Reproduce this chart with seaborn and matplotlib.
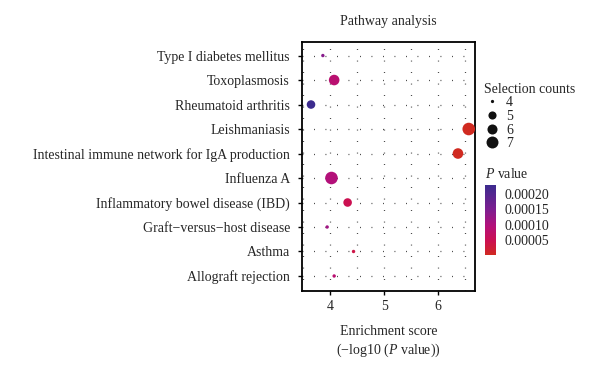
import matplotlib
matplotlib.use("Agg")
import matplotlib.pyplot as plt
import seaborn as sns
import pandas as pd
import numpy as np
from matplotlib.colors import LinearSegmentedColormap, Normalize
from matplotlib.lines import Line2D
import matplotlib as mpl

# Datos
pathways = ["Type I diabetes mellitus", "Toxoplasmosis", "Rheumatoid arthritis",
            "Leishmaniasis", "Intestinal immune network for IgA production",
            "Influenza A", "Inflammatory bowel disease (IBD)",
            "Graft\u2212versus\u2212host disease", "Asthma", "Allograft rejection"]
enrichment = [3.86, 4.07, 3.64, 6.57, 6.37, 4.02, 4.32, 3.94, 4.43, 4.07]
p_values = [0.000138, 0.000085, 0.000229, 0.0000003, 0.0000004,
            0.000095, 0.000048, 0.000115, 0.000037, 0.000085]
counts = [4, 6, 5, 7, 6, 7, 5, 4, 4, 4]

count_levels = [4, 5, 6, 7]
cbar_ticks = [0.00020, 0.00015, 0.00010, 0.00005]
cbar_labels = ["0.00020", "0.00015", "0.00010", "0.00005"]

df = pd.DataFrame({"Pathway": pathways, "Enrichment": enrichment,
                   "P": p_values, "Count": counts})

sns.set_style("white")
plt.rcParams["font.family"] = ["Liberation Serif", "DejaVu Serif"]
plt.rcParams["mathtext.fontset"] = "custom"
plt.rcParams["mathtext.rm"] = "Liberation Serif"
plt.rcParams["mathtext.it"] = "Liberation Serif:italic"

cmap = LinearSegmentedColormap.from_list(
    "pv", [(0.0, "#d02a20"), (0.2, "#cc1050"), (0.42, "#b3107a"),
           (0.65, "#7d1e90"), (1.0, "#3c2b8e")])
norm = Normalize(vmin=min(p_values), vmax=max(p_values))
size_map = {4: 6, 5: 38, 6: 58, 7: 82}

fig = plt.figure(figsize=(6, 3.78), dpi=100)
ax = fig.add_axes([0.504, 0.231, 0.288, 0.659])

# Rejilla punteada
for x in [3.5, 4, 4.5, 5, 5.5, 6, 6.5]:
    ax.axvline(x, color="#333333", lw=0.9, ls=(0, (0.7, 8.5)), zorder=0)
for y in range(len(pathways)):
    ax.axhline(y, color="#333333", lw=0.9, ls=(0, (0.7, 8.5)), zorder=0)

sns.scatterplot(data=df, x="Enrichment", y="Pathway", hue="P", hue_norm=norm,
                palette=cmap, size="Count", sizes=size_map, legend=False,
                edgecolor="none", ax=ax, zorder=3)

ax.set_xlim(3.48, 6.69)
ax.set_ylim(len(pathways) - 0.4, -0.57)
ax.set_xticks([4, 5, 6])
ax.set_yticks(range(len(pathways)))
ax.set_yticklabels(pathways)
ax.tick_params(axis="both", direction="out", length=3, width=1, color="black",
               labelsize=10, pad=4, left=True, bottom=True)
ax.tick_params(axis="y", pad=6)
for s in ax.spines.values():
    s.set_linewidth(1.3)
    s.set_color("black")
ax.set_xlabel("Enrichment score\n(\u2212log10 ($P$ value))", fontsize=10, labelpad=8,
              linespacing=1.3)
ax.set_ylabel("")
ax.set_title("Pathway analysis", fontsize=10, pad=12)

# Leyenda de tamanos
handles = [Line2D([], [], marker="o", ls="", color="#111111", markeredgewidth=0,
                  markersize=np.sqrt(size_map[c]) * 0.95) for c in count_levels]
leg = fig.legend(handles, [str(c) for c in count_levels], title="Selection counts",
                 loc="upper left", bbox_to_anchor=(0.795, 0.8), frameon=False,
                 fontsize=10, title_fontsize=10, handletextpad=0.4, labelspacing=0.05,
                 borderpad=0, handlelength=1.2)
leg._legend_box.align = "left"

# Barra de color
cax = fig.add_axes([0.808, 0.325, 0.019, 0.185])
cb = mpl.colorbar.ColorbarBase(cax, cmap=cmap, norm=norm)
cb.outline.set_visible(False)
cb.set_ticks(cbar_ticks)
cb.set_ticklabels(cbar_labels)
cax.tick_params(direction="in", color="white", length=3.5, width=1.3, left=True,
                right=True, labelsize=10, pad=6)
fig.text(0.808, 0.522, "$P$ value", fontsize=10, ha="left", va="bottom")

fig.savefig("out.png", dpi=100)
